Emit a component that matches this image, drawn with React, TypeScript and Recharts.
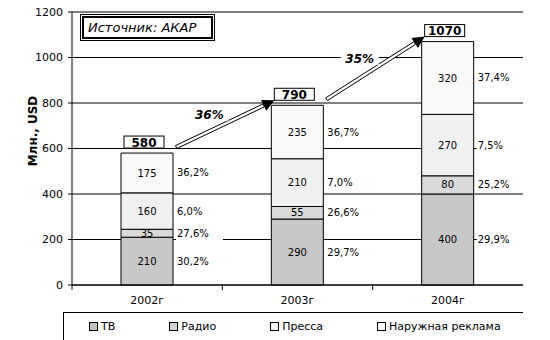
import React from 'react';
import { BarChart, Bar, XAxis, YAxis, CartesianGrid, ReferenceLine, LabelList, Legend } from 'recharts';

const years = ['2002г', '2003г', '2004г'];
const tv = [210, 290, 400];
const radio = [35, 55, 80];
const press = [160, 210, 270];
const outdoor = [175, 235, 320];
const totals = [580, 790, 1070];
const tvPct = ['30,2%', '29,7%', '29,9%'];
const radioPct = ['27,6%', '26,6%', '25,2%'];
const pressPct = ['6,0%', '7,0%', '7,5%'];
const outdoorPct = ['36,2%', '36,7%', '37,4%'];
const growth = ['36%', '35%'];
const seriesNames = ['ТВ', 'Радио', 'Пресса', 'Наружная реклама'];
const yTicks = [0, 200, 400, 600, 800, 1000, 1200];

const seriesColors = ['#c8c8c8', '#d9d9d9', '#f0f0f0', '#f9f9f9'];
const legendColors = ['#c0c0c0', '#d4d4d4', '#f4f4f4', '#ffffff'];
const FONT = '"DejaVu Sans", Verdana, sans-serif';

const data = years.map((year, i) => ({
  year,
  tv: tv[i],
  radio: radio[i],
  press: press[i],
  outdoor: outdoor[i],
  total: totals[i],
  tvPct: tvPct[i],
  radioPct: radioPct[i],
  pressPct: pressPct[i],
  outdoorPct: outdoorPct[i],
}));

const PctLabel = (p: any) => {
  const x = Number(p.x) + Number(p.width) + 3;
  const cy = Number(p.y) + Number(p.height) / 2;
  return (
    <g>
      <rect x={x} y={cy - 7} width={47} height={14} fill="#fff" />
      <text x={x + 1} y={cy} dominantBaseline="central" fontSize={10} fill="#000" fontFamily={FONT}>
        {p.value}
      </text>
    </g>
  );
};

const TotalLabel = (p: any) => {
  const cx = Number(p.x) + Number(p.width) / 2 - 3;
  const top = Number(p.y) - 17;
  return (
    <g>
      <rect x={cx - 20} y={top} width={40} height={12} fill="#fff" stroke="#000" strokeWidth={1} />
      <text x={cx} y={top + 6.5} textAnchor="middle" dominantBaseline="central" fontWeight="bold" fontSize={12} fill="#000" fontFamily={FONT}>
        {p.value}
      </text>
    </g>
  );
};

const pts = (arr: number[][]) => arr.map((a) => `${a[0]},${a[1]}`).join(' ');

const makeArrow = (label: string) => (p: any) => {
  const sx = Number(p.x1) + 29;
  const sy = Number(p.y1) - 6;
  const ex = Number(p.x2) - 23;
  const ey = Number(p.y2) - 5;
  const dx = ex - sx;
  const dy = ey - sy;
  const len = Math.hypot(dx, dy) || 1;
  const ux = dx / len;
  const uy = dy / len;
  const nx = -uy;
  const ny = ux;
  const hl = 12;
  const hw = 6;
  const sw = 1.6;
  const bx = ex - ux * hl;
  const by = ey - uy * hl;
  const shaft = [
    [sx + nx * sw, sy + ny * sw],
    [bx + nx * sw, by + ny * sw],
    [bx - nx * sw, by - ny * sw],
    [sx - nx * sw, sy - ny * sw],
  ];
  const head = [
    [ex, ey],
    [bx + nx * hw, by + ny * hw],
    [bx - nx * hw, by - ny * hw],
  ];
  const mx = (sx + ex) / 2 - 16;
  const my = (sy + ey) / 2 - 9;
  return (
    <g>
      <polygon points={pts(shaft)} fill="#fff" stroke="#000" strokeWidth={1} />
      <polygon points={pts(head)} fill="#000" />
      <rect x={mx - 19} y={my - 7} width={38} height={13} fill="#fff" />
      <text x={mx} y={my} textAnchor="middle" dominantBaseline="central" fontWeight="bold" fontStyle="italic" fontSize={12} fill="#000" fontFamily={FONT}>
        {label}
      </text>
    </g>
  );
};

const XTick = (p: any) => {
  const x = Number(p.x);
  const y = Number(p.y);
  const off = Number(p.payload?.offset ?? 0);
  return (
    <g>
      <line x1={x - off} x2={x - off} y1={y} y2={y + 5} stroke="#000" />
      <text x={x} y={y + 19} textAnchor="middle" fontSize={11} fill="#000" fontFamily={FONT}>
        {p.payload?.value}
      </text>
    </g>
  );
};

const YLabel = (p: any) => {
  const vb = p.viewBox || { x: 0, y: 12 };
  const x = Number(vb.x) + 33;
  const y = Number(vb.y) + 119;
  return (
    <text x={x} y={y} transform={`rotate(-90 ${x} ${y})`} textAnchor="middle" dominantBaseline="central" fontWeight="bold" fontSize={12} fill="#000" fontFamily={FONT}>
      Млн., USD
    </text>
  );
};

const renderLegend = () => (
  <div
    style={{
      marginLeft: 63,
      height: 28,
      boxSizing: 'border-box',
      borderTop: '1px solid #000',
      borderLeft: '1px solid #000',
      display: 'flex',
      alignItems: 'center',
      paddingLeft: 25,
      gap: 54,
      fontSize: 11,
      fontFamily: FONT,
      color: '#000',
    }}
  >
    {seriesNames.map((name, i) => (
      <div key={name} style={{ display: 'flex', alignItems: 'center', whiteSpace: 'nowrap' }}>
        <span
          style={{
            display: 'inline-block',
            width: 7,
            height: 7,
            border: '1px solid #000',
            background: legendColors[i],
            marginRight: 3,
          }}
        />
        {name}
      </div>
    ))}
  </div>
);

const keys = ['tv', 'radio', 'press', 'outdoor'];
const pctKeys = ['tvPct', 'radioPct', 'pressPct', 'outdoorPct'];

export default function App() {
  return (
    <div style={{ position: 'absolute', left: 0, top: 0, width: 550, height: 340, fontFamily: FONT, background: '#fff' }}>
      <BarChart width={550} height={340} data={data} margin={{ top: 12, right: 27, left: 0, bottom: 0 }} barSize={52}>
        <CartesianGrid vertical={false} stroke="#000" strokeOpacity={1} />
        <XAxis
          dataKey="year"
          height={27}
          axisLine={{ stroke: '#000' }}
          tickLine={false}
          tickSize={0}
          tickMargin={0}
          interval={0}
          tick={<XTick />}
        />
        <YAxis
          width={72}
          domain={[0, 1200]}
          ticks={yTicks}
          interval={0}
          axisLine={{ stroke: '#000' }}
          tickLine={{ stroke: '#000' }}
          tickSize={4}
          tickMargin={5}
          tick={{ fill: '#000', fontSize: 11, fontFamily: FONT }}
          label={{ content: <YLabel /> } as any}
        />
        <Legend content={renderLegend} verticalAlign="bottom" />
        {keys.map((k, i) => (
          <Bar key={k} dataKey={k} name={seriesNames[i]} stackId="a" fill={seriesColors[i]} stroke="#000" strokeWidth={1} isAnimationActive={false}>
            <LabelList dataKey={k} position="center" fontSize={10} fill="#000" fontFamily={FONT} />
            <LabelList dataKey={pctKeys[i]} content={<PctLabel />} />
            {k === 'outdoor' ? <LabelList dataKey="total" content={<TotalLabel />} /> : null}
          </Bar>
        ))}
        <ReferenceLine y={1200} stroke="#808080" strokeWidth={1} />
        {growth.map((g, i) => (
          <ReferenceLine
            key={g + i}
            segment={[
              { x: years[i], y: totals[i] },
              { x: years[i + 1], y: totals[i + 1] },
            ]}
            shape={makeArrow(g)}
          />
        ))}
      </BarChart>
      <div
        style={{
          position: 'absolute',
          left: 80,
          top: 14,
          width: 135,
          height: 27,
          boxSizing: 'border-box',
          border: '1px solid #000',
          padding: 1,
          background: '#fff',
        }}
      >
        <div
          style={{
            boxSizing: 'border-box',
            width: '100%',
            height: '100%',
            border: '2px solid #000',
            display: 'flex',
            alignItems: 'center',
            paddingLeft: 4,
            fontStyle: 'italic',
            fontSize: 13,
            fontFamily: FONT,
            color: '#000',
            whiteSpace: 'nowrap',
          }}
        >
          Источник: АКАР
        </div>
      </div>
    </div>
  );
}
